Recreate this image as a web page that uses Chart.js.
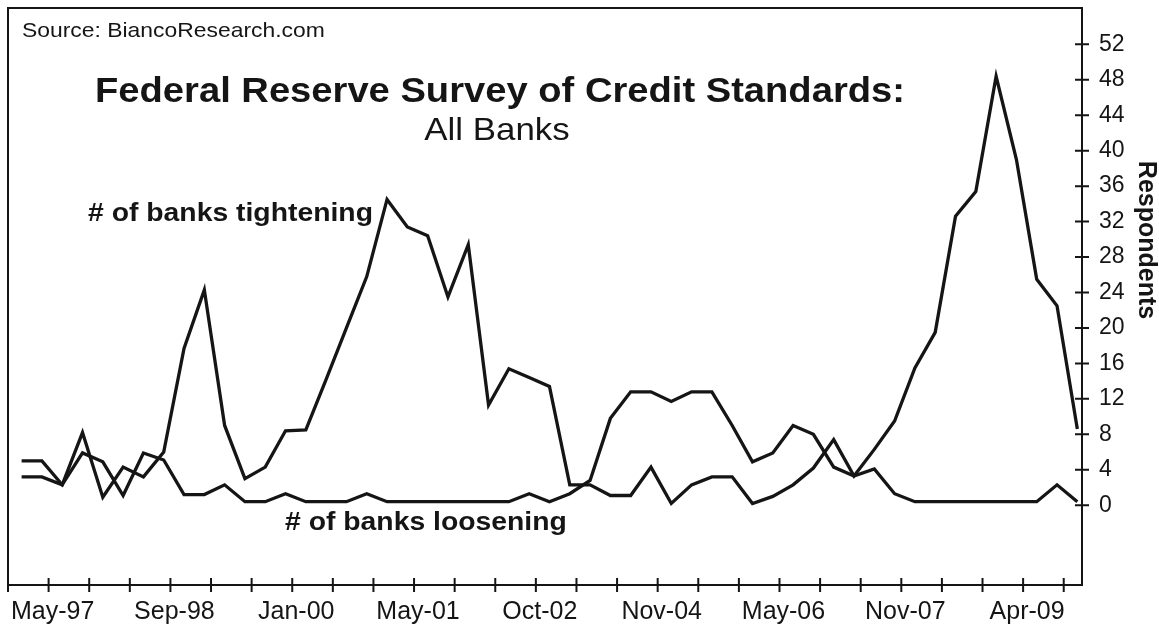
<!DOCTYPE html>
<html>
<head>
<meta charset="utf-8">
<script src="https://cdn.jsdelivr.net/npm/chart.js@4"></script>
<style>
  body { margin: 0; background: #fff; }
  #wrap { width: 1159px; height: 629px; position: relative; }
</style>
</head>
<body>
<div id="wrap"><canvas id="myChart"></canvas></div>
<script>
// survey readings, one per survey date (roughly quarterly, May-97 .. Jan-10)
const tightening = [3.2, 3.2, 2.3, 8.2, 0.9, 4.3, 3.2, 6.0, 17.7, 24.3, 9.0, 3.0, 4.3, 8.4, 8.5,
  14.2, 20.0, 25.8, 34.5, 31.4, 30.4, 23.5, 29.4, 11.3, 15.4, 14.4, 13.4, 2.3, 2.3, 1.1,
  1.1, 4.3, 0.2, 2.3, 3.2, 3.2, 0.2, 1.0, 2.3, 4.2, 7.4, 3.3, 6.3, 9.5, 15.5, 19.5,
  32.6, 35.4, 48.4, 39.0, 25.5, 22.5, 8.6];
const loosening = [5.0, 5.0, 2.3, 5.9, 4.9, 1.1, 5.9, 5.1, 1.2, 1.2, 2.3, 0.4, 0.4, 1.3, 0.4,
  0.4, 0.4, 1.3, 0.4, 0.4, 0.4, 0.4, 0.4, 0.4, 0.4, 1.3, 0.4, 1.3, 2.8, 9.8,
  12.8, 12.8, 11.7, 12.8, 12.8, 9.0, 4.9, 5.9, 9.0, 8.0, 4.3, 3.3, 4.1, 1.3, 0.4, 0.4,
  0.4, 0.4, 0.4, 0.4, 0.4, 2.3, 0.4];
// one tick every two surveys, a label every third tick
const tickLabels = ["", "May-97", "", "", "Sep-98", "", "", "Jan-00", "", "", "May-01", "", "", "Oct-02",
  "", "", "Nov-04", "", "", "May-06", "", "", "Nov-07", "", "", "Apr-09", ""];
const yTicks = [0, 4, 8, 12, 16, 20, 24, 28, 32, 36, 40, 44, 48, 52];

const firstTick = -0.67;
const ink = "#151515";
const fontFam = "'Liberation Sans', Arial, sans-serif";

function toPoints(arr) {
  return arr.map((v, i) => ({ x: i, y: v }));
}

function wideText(ctx, text, x, y, font, align) {
  ctx.save();
  ctx.font = font;
  ctx.translate(x, y);
  ctx.scale(1.09, 1);
  ctx.textAlign = align;
  ctx.textBaseline = "middle";
  ctx.fillStyle = ink;
  ctx.fillText(text, 0, 0);
  ctx.restore();
}

function noPad(s) {
  s.paddingTop = 0;
  s.paddingBottom = 0;
  s.paddingLeft = 0;
  s.paddingRight = 0;
}

const decor = {
  id: "decor",
  afterDraw(chart) {
    const ctx = chart.ctx;
    const a = chart.chartArea;
    const x = chart.scales.x;
    const y = chart.scales.y;
    ctx.save();
    ctx.strokeStyle = ink;
    ctx.lineWidth = 2;
    // left and top frame
    ctx.beginPath();
    ctx.moveTo(a.left, a.bottom);
    ctx.lineTo(a.left, a.top);
    ctx.lineTo(a.right, a.top);
    ctx.stroke();
    // tick marks crossing the axes
    ctx.beginPath();
    x.ticks.forEach(t => {
      const px = x.getPixelForValue(t.value);
      ctx.moveTo(px, a.bottom - 7);
      ctx.lineTo(px, a.bottom + 7);
    });
    y.ticks.forEach(t => {
      const py = y.getPixelForValue(t.value);
      ctx.moveTo(a.right - 7, py);
      ctx.lineTo(a.right + 7, py);
    });
    ctx.stroke();
    ctx.restore();

    wideText(ctx, "Source: BiancoResearch.com", 22, 31, "21px " + fontFam, "left");
    wideText(ctx, "Federal Reserve Survey of Credit Standards:", 500, 92, "bold 35px " + fontFam, "center");
    wideText(ctx, "All Banks", 497, 131, "32px " + fontFam, "center");
    wideText(ctx, "# of banks tightening", 88, 214, "bold 26px " + fontFam, "left");
    wideText(ctx, "# of banks loosening", 285, 523, "bold 26px " + fontFam, "left");

    ctx.save();
    ctx.translate(1146, 240);
    ctx.rotate(Math.PI / 2);
    ctx.font = "bold 25px " + fontFam;
    ctx.textAlign = "center";
    ctx.textBaseline = "middle";
    ctx.fillStyle = ink;
    ctx.fillText("Respondents", 0, 0);
    ctx.restore();
  }
};

const ctx = document.getElementById("myChart").getContext("2d");
const myChart = new Chart(ctx, {
  type: "line",
  data: {
    datasets: [
      { label: "# of banks tightening", data: toPoints(tightening) },
      { label: "# of banks loosening", data: toPoints(loosening) }
    ]
  },
  options: {
    responsive: true,
    maintainAspectRatio: false,
    animation: false,
    layout: { padding: { left: 8, top: 8, right: 0, bottom: 0 } },
    elements: {
      line: { borderColor: ink, borderWidth: 3.3, tension: 0, fill: false },
      point: { radius: 0 }
    },
    plugins: { legend: { display: false }, tooltip: { enabled: false } },
    scales: {
      x: {
        type: "linear",
        min: firstTick,
        max: 52.23,
        grid: { display: false },
        border: { display: true, color: ink, width: 2 },
        afterBuildTicks: s => {
          s.ticks = tickLabels.map((t, j) => ({ value: firstTick + 2 * j }));
        },
        afterFit: s => { s.height = 44; noPad(s); },
        ticks: {
          autoSkip: false,
          maxRotation: 0,
          padding: 4,
          labelOffset: 4,
          color: ink,
          font: { family: fontFam, size: 25 },
          callback: (v, i) => tickLabels[i]
        }
      },
      y: {
        position: "right",
        min: -9.0,
        max: 56.1,
        grid: { display: false },
        border: { display: true, color: ink, width: 2 },
        afterBuildTicks: s => {
          s.ticks = yTicks.map(v => ({ value: v }));
        },
        afterFit: s => { s.width = 77; noPad(s); },
        ticks: {
          padding: 9,
          color: ink,
          font: { family: fontFam, size: 23 },
          callback: v => String(v)
        }
      }
    }
  },
  plugins: [decor]
});
</script>
</body>
</html>
